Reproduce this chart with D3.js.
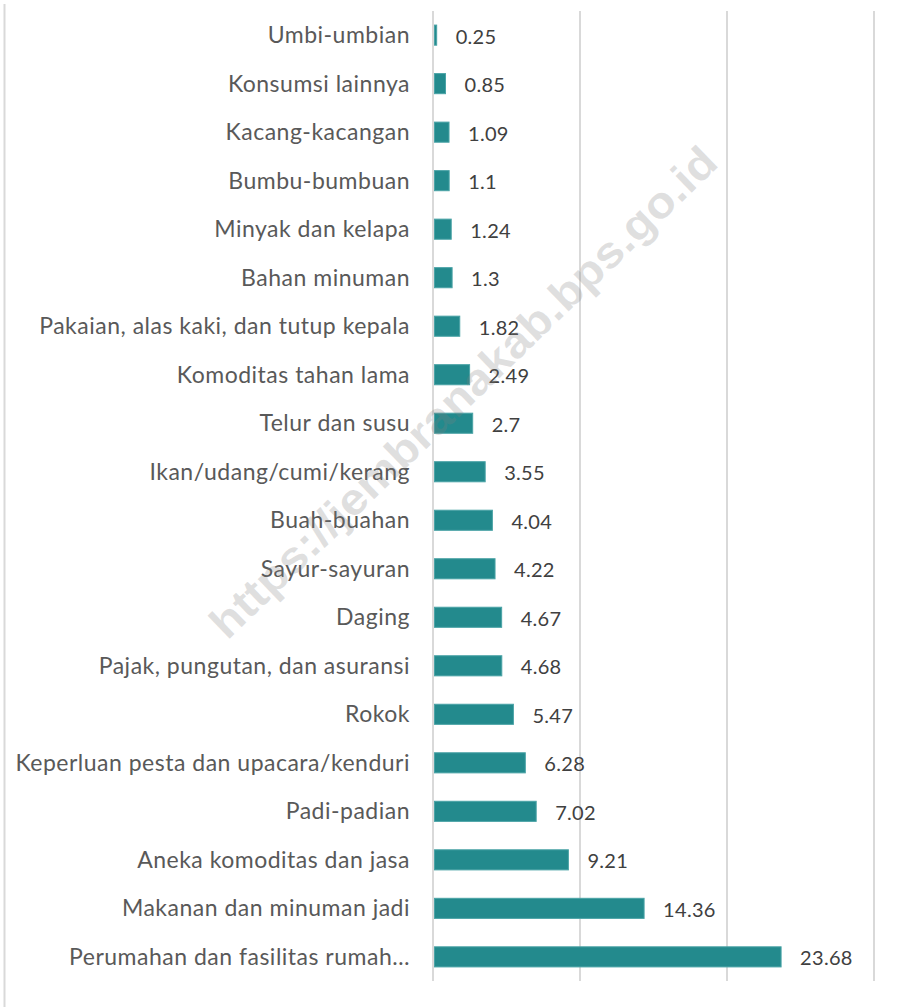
<!DOCTYPE html>
<html><head><meta charset="utf-8">
<script src="https://cdn.jsdelivr.net/npm/d3@7"></script>
<style>body{margin:0;background:#fff}svg{display:block}</style>
</head><body><div id="chart"></div>
<script>
const categories = ["Umbi-umbian","Konsumsi lainnya","Kacang-kacangan","Bumbu-bumbuan","Minyak dan kelapa","Bahan minuman","Pakaian, alas kaki, dan tutup kepala","Komoditas tahan lama","Telur dan susu","Ikan/udang/cumi/kerang","Buah-buahan","Sayur-sayuran","Daging","Pajak, pungutan, dan asuransi","Rokok","Keperluan pesta dan upacara/kenduri","Padi-padian","Aneka komoditas dan jasa","Makanan dan minuman jadi","Perumahan dan fasilitas rumah…"];
const values = [0.25,0.85,1.09,1.1,1.24,1.3,1.82,2.49,2.7,3.55,4.04,4.22,4.67,4.68,5.47,6.28,7.02,9.21,14.36,23.68];
const labels = ["0.25","0.85","1.09","1.1","1.24","1.3","1.82","2.49","2.7","3.55","4.04","4.22","4.67","4.68","5.47","6.28","7.02","9.21","14.36","23.68"];
const ticks = [0,10,20,30];
const watermark = "https://jembranakab.bps.go.id";

const W=908,H=1007;
const svg=d3.select("#chart").append("svg").attr("width",W).attr("height",H);
const x=d3.scaleLinear().domain([0,30]).range([433,874]);
const y=d3.scaleBand().domain(categories).range([11,981]).paddingInner(0.565).paddingOuter(0.28);

// left border
svg.append("line").attr("x1",4.5).attr("x2",4.5).attr("y1",4).attr("y2",H).attr("stroke","#d9d9d9").attr("stroke-width",2);

// gridlines
svg.append("g").selectAll("line").data(ticks).join("line")
  .attr("x1",d=>x(d)).attr("x2",d=>x(d)).attr("y1",11).attr("y2",981)
  .attr("stroke","#d9d9d9").attr("stroke-width",2);

// bars
svg.append("g").selectAll("rect").data(values).join("rect")
  .attr("x",x(0)+1.5).attr("y",(d,i)=>y(categories[i])+0.5)
  .attr("width",d=>Math.max(0.5,x(d)-x(0)-1.5)).attr("height",y.bandwidth()-1)
  .attr("fill","#238a8d").attr("stroke","#4aa3a6").attr("stroke-width",1);

// category labels
svg.append("g").selectAll("text").data(categories).join("text")
  .attr("x",410).attr("y",d=>y(d)+y.bandwidth()/2).attr("dy","0.35em")
  .attr("text-anchor","end").attr("font-family","Lato, 'Open Sans', sans-serif")
  .attr("font-size",23).attr("letter-spacing","0.5px").attr("fill","#595959").text(d=>d);

// value labels
svg.append("g").selectAll("text").data(values).join("text")
  .attr("x",d=>x(d)+19).attr("y",(d,i)=>y(categories[i])+y.bandwidth()/2+1.5).attr("dy","0.35em")
  .attr("font-family","Lato, 'Open Sans', sans-serif")
  .attr("font-size",20).attr("letter-spacing","0.3px").attr("fill","#404040").text((d,i)=>labels[i]);

// watermark
svg.append("text").attr("transform","translate(463,392) rotate(-44)")
  .attr("text-anchor","middle").attr("dy","0.35em")
  .attr("font-family","'Liberation Sans', Arial, sans-serif").attr("font-weight","bold")
  .attr("font-size",44).attr("textLength",685).attr("lengthAdjust","spacingAndGlyphs")
  .attr("fill","#808080").attr("fill-opacity",0.25).text(watermark);
</script></body></html>
